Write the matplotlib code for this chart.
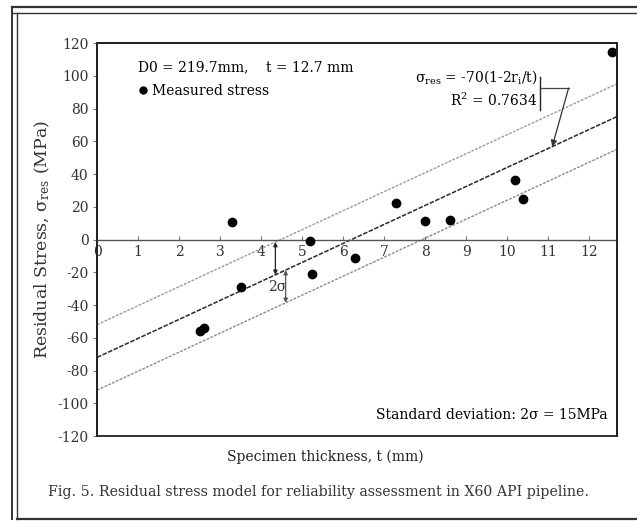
import numpy as np
import matplotlib
matplotlib.use("Agg")
import matplotlib.pyplot as plt
from matplotlib.lines import Line2D

plt.rcParams['font.family'] = ['DejaVu Serif']
plt.rcParams['mathtext.fontset'] = 'dejavuserif'
plt.rcParams['axes.unicode_minus'] = False

# Measured residual stress vs. specimen thickness
thickness = [2.5, 2.6, 3.3, 3.5, 5.2, 5.25, 6.3, 7.3, 8.0, 8.6, 10.2, 10.4, 12.55]
stress = [-56, -54, 11, -29, -1, -21, -11, 22.5, 11.5, 12, 36.5, 24.5, 114.5]

# Linear model and +/- band
fit_intercept = -72.0
fit_slope = 11.6
band = 20.0

x_ticks = list(range(0, 13))
y_ticks = list(range(-120, 121, 20))

fig = plt.figure(figsize=(6.37, 5.21), dpi=100)
ax = fig.add_axes([0.1523, 0.1631, 0.8163, 0.7543])

tt = np.array([0.0, 12.68])
fit = fit_intercept + fit_slope * tt
ax.plot(tt, fit + band, color='#9a9a9a', lw=1.0, ls=(0, (2, 1)))
ax.plot(tt, fit, color='#2a2a2a', lw=1.1, ls=(0, (3, 1)))
ax.plot(tt, fit - band, color='#8a8a8a', lw=1.0, ls=(0, (2, 1)))

ax.plot(thickness, stress, 'o', color='black', ms=6, clip_on=False, zorder=5)

ax.set_xlim(0, 12.68)
ax.set_ylim(-120, 120)
ax.set_yticks(y_ticks)
ax.set_xticks(x_ticks)

# x axis drawn through zero, box kept around the plot
ax.spines['bottom'].set_position(('data', 0))
ax.spines['bottom'].set_color('#555555')
ax.spines['bottom'].set_linewidth(1.0)
for side in ['left', 'top', 'right']:
    ax.spines[side].set_linewidth(1.3)
    ax.spines[side].set_color('#222222')
ax.add_patch(plt.Rectangle((0, 0), 1, 1, transform=ax.transAxes, fill=False,
                           lw=1.3, ec='#222222', zorder=6, clip_on=False))

ax.tick_params(axis='x', direction='in', length=3, color='#777777', labelsize=10, pad=4,
               labelcolor='#333333')
ax.tick_params(axis='y', direction='out', length=3, color='#777777', labelsize=10, pad=3,
               labelcolor='#333333')

ax.set_ylabel('Residual Stress, σ$_{\\mathrm{res}}$ (MPa)', fontsize=12.5, labelpad=4, color='#333333')
ax.set_xlabel('Specimen thickness, t (mm)', fontsize=10, color='#222222')
ax.xaxis.set_label_coords(0.44, -0.035)

ax.text(1.0, 103, 'D0 = 219.7mm,    t = 12.7 mm', fontsize=10)
ax.legend(handles=[Line2D([], [], marker='o', ls='', color='black', ms=5)],
          labels=['Measured stress'], loc='upper left', bbox_to_anchor=(0.065, 0.91),
          frameon=False, handletextpad=0.1, handlelength=1.0, fontsize=10,
          borderaxespad=0)

# equation callout with bracket pointing to the fit line
ax.text(10.75, 99, 'σ$_{\\mathrm{res}}$ = -70(1-2r$_{\\mathrm{i}}$/t)', fontsize=10, ha='right', va='center')
ax.text(10.75, 85, 'R$^{\\mathrm{2}}$ = 0.7634', fontsize=10, ha='right', va='center')
ax.plot([10.8, 10.8], [79, 99], color='#222222', lw=1.0)
ax.plot([10.8, 11.5], [92.5, 92.5], color='#444444', lw=0.9)
x_tip = 11.1
ax.annotate('', xy=(x_tip, fit_intercept + fit_slope * x_tip), xytext=(11.5, 92.5),
            arrowprops=dict(arrowstyle='-|>', color='#333333', lw=0.9,
                            mutation_scale=9, shrinkA=0, shrinkB=0))

# 2-sigma arrows between the band lines
x1, x2 = 4.35, 4.6
ax.annotate('', xy=(x1, fit_intercept + fit_slope * x1), xytext=(x1, fit_intercept + fit_slope * x1 + band),
            arrowprops=dict(arrowstyle='<|-|>', color='#222222', lw=0.9,
                            mutation_scale=6, shrinkA=0, shrinkB=0))
ax.annotate('', xy=(x2, fit_intercept + fit_slope * x2 - band), xytext=(x2, fit_intercept + fit_slope * x2),
            arrowprops=dict(arrowstyle='<|-|>', color='#555555', lw=0.9,
                            mutation_scale=6, shrinkA=0, shrinkB=0))
ax.text(4.4, -29, '2σ', fontsize=10, ha='center', va='center', color='#333333')

ax.text(12.45, -107, 'Standard deviation: 2σ = 15MPa', fontsize=10, ha='right', va='center')

fig.text(0.5, 0.056, 'Fig. 5. Residual stress model for reliability assessment in X60 API pipeline.',
         fontsize=10.2, ha='center', va='center', color='#333333')

# page frame
fig.add_artist(Line2D([0.019, 1.0], [0.987, 0.987], color='#333333', lw=1.6))
fig.add_artist(Line2D([0.019, 1.0], [0.975, 0.975], color='#333333', lw=1.0))
fig.add_artist(Line2D([0.019, 0.019], [0.004, 0.987], color='#333333', lw=1.4))
fig.add_artist(Line2D([0.026, 0.026], [0.004, 0.975], color='#333333', lw=1.0))
fig.add_artist(Line2D([0.026, 1.0], [0.004, 0.004], color='#333333', lw=1.6))

fig.savefig('out.png', dpi=100)
